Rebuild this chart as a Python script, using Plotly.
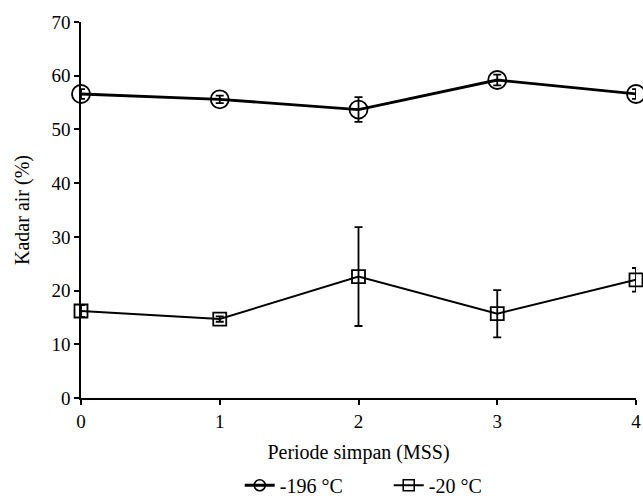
import plotly.graph_objects as go

periods = [0, 1, 2, 3, 4]
x_ticks = ["0", "1", "2", "3", "4"]
series_196 = [56.6, 55.6, 53.7, 59.2, 56.6]
err_196 = [0.9, 0.7, 2.3, 1.0, 0.9]
series_20 = [16.2, 14.7, 22.6, 15.7, 22.0]
err_20 = [1.1, 0.5, 9.2, 4.4, 2.2]
name_196 = "-196 °C"
name_20 = "-20 °C"

FAM = "Liberation Serif"
TICK = 19
TITLE = 20
font = dict(family=FAM, size=TICK, color="black")

fig = go.Figure()
fig.add_trace(go.Scatter(
    x=periods, y=series_196, mode="lines+markers", showlegend=False,
    line=dict(color="black", width=2.8),
    marker=dict(symbol="circle-open", size=18, color="black", line=dict(width=1.8)),
    error_y=dict(type="data", array=err_196, color="black", thickness=1.8, width=4),
    cliponaxis=False,
))
fig.add_trace(go.Scatter(
    x=periods, y=series_20, mode="lines+markers", showlegend=False,
    line=dict(color="black", width=2),
    marker=dict(symbol="square-open", size=13, color="black", line=dict(width=1.8)),
    error_y=dict(type="data", array=err_20, color="black", thickness=1.8, width=4),
    cliponaxis=False,
))
# legend entries
fig.add_trace(go.Scatter(
    x=[None], y=[None], mode="lines+markers", name=name_196,
    line=dict(color="black", width=2.8),
    marker=dict(symbol="circle-open", size=11, color="black", line=dict(width=1.6)),
))
fig.add_trace(go.Scatter(
    x=[None], y=[None], mode="lines+markers", name=name_20,
    line=dict(color="black", width=2),
    marker=dict(symbol="square-open", size=11, color="black", line=dict(width=1.6)),
))

fig.update_layout(
    width=643, height=500,
    margin=dict(l=81, r=7, t=22, b=102, autoexpand=False),
    paper_bgcolor="white", plot_bgcolor="white",
    font=font,
    legend=dict(orientation="h", x=0.286, xanchor="left", y=-0.232, yanchor="middle",
                font=dict(family=FAM, size=TITLE, color="black"),
                itemwidth=30, tracegroupgap=0, entrywidth=104),
)
fig.update_xaxes(
    range=[0, 4], tickmode="array", tickvals=periods, ticktext=x_ticks,
    showgrid=False, zeroline=False, showline=True, linecolor="black", linewidth=1.5,
    ticks="outside", ticklen=5, tickwidth=1.5, tickcolor="black", automargin=False,
    title=dict(text="Periode simpan (MSS)", standoff=14, font=dict(family=FAM, size=TITLE)),
    tickfont=dict(family=FAM, size=TICK),
)
fig.update_yaxes(
    range=[0, 70], tickvals=[0, 10, 20, 30, 40, 50, 60, 70],
    showgrid=False, zeroline=False, showline=True, linecolor="black", linewidth=1.5,
    ticks="outside", ticklen=5, tickwidth=1.5, tickcolor="black", automargin=False,
    title=dict(text="Kadar air (%)", standoff=16, font=dict(family=FAM, size=TITLE)),
    tickfont=dict(family=FAM, size=TICK),
)

fig.write_html("out.html", config={"displayModeBar": False},
               post_script="document.body.style.margin='0';")
